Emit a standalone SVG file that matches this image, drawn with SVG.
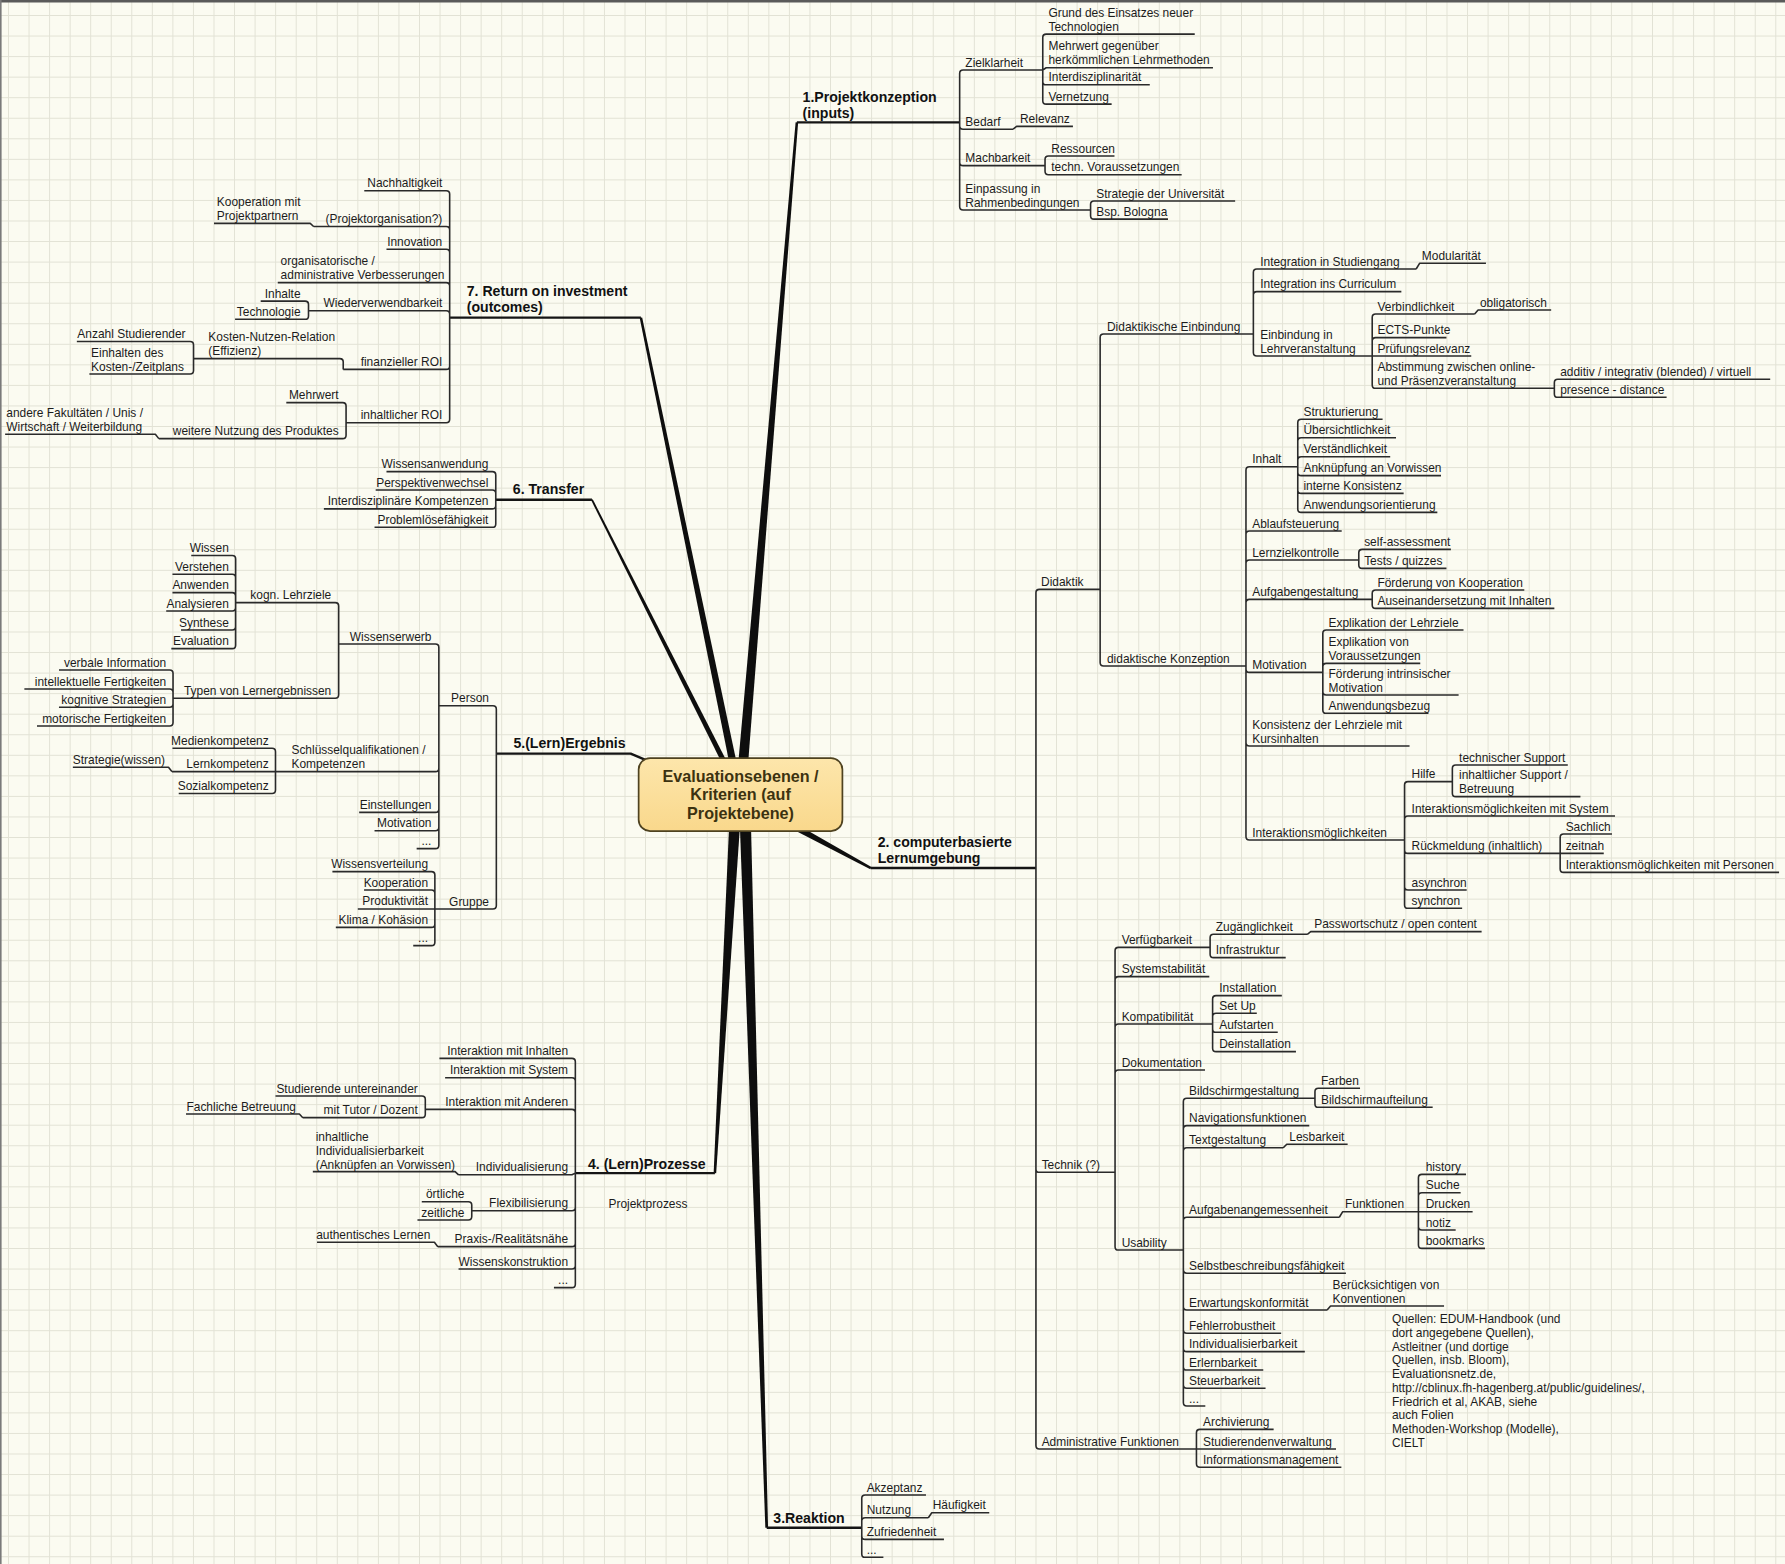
<svg xmlns="http://www.w3.org/2000/svg" width="1785" height="1564" viewBox="0 0 1785 1564">
<defs>
<pattern id="grid" x="8" y="15" width="20.55" height="20.55" patternUnits="userSpaceOnUse">
<path d="M0 0.5H20.55M0.5 0V20.55" fill="none" stroke="#e2e2d5" stroke-width="1"/>
</pattern>
<linearGradient id="cg" x1="0" y1="0" x2="0" y2="1">
<stop offset="0" stop-color="#fde6ab"/>
<stop offset="1" stop-color="#f9d88c"/>
</linearGradient>
<style>
.t{font-family:"Liberation Sans",Arial,sans-serif;font-size:10.5px;fill:#1c1c1c}
.e{text-anchor:end}
.b{font-weight:bold;font-size:12.4px;fill:#111}
.c{fill:none;stroke:#2a2a2a;stroke-width:1.4;stroke-linejoin:round}
.m{stroke-width:2.1;stroke:#151515}
.w{fill:#0e0e0e}
.ct{font-family:"Liberation Sans",Arial,sans-serif;font-weight:bold;font-size:14.2px;fill:#3c3210;text-anchor:middle}
</style>
</defs>
<rect width="1785" height="1564" fill="#fbfbf1"/>
<rect width="1785" height="1564" fill="url(#grid)"/>
<path d="M0 1.2H1785" stroke="#5a5a5a" stroke-width="2.4"/>
<path d="M0.8 0V1564" stroke="#7a7a7a" stroke-width="1.6"/>
<g transform="scale(1.13839)">
<g id="connectors">
<polygon class="w" points="698.9,107.4 701.1,107.6 655.6,690.4 646.8,689.6"/>
<polygon class="w" points="561.9,279.2 564.1,278.8 651.2,689.3 644.8,690.7"/>
<polygon class="w" points="519.3,439.4 520.7,438.6 648.7,688.9 644.5,691.1"/>
<polygon class="w" points="626.9,1030.4 629.1,1030.6 651.4,705.3 641.4,704.7"/>
<polygon class="w" points="672.3,1342 674.7,1342 659.2,704.8 649.2,705.2"/>
<polygon class="w" points="764.5,763.5 765.5,761.5 696.3,722.1 693.7,727.1"/>
<path class="c m" d="M700 107.5H843"/>
<path class="c m" d="M563 279H395"/>
<path class="c m" d="M520 439H435.5"/>
<path class="c m" d="M568 668L554 662H436"/>
<path class="c m" d="M628 1030.5H505.4"/>
<path class="c m" d="M673.5 1342H757"/>
<path class="c m" d="M765 762.5H910"/>
<path class="c" d="M843 107.5V64.5Q843 61.5 846 61.5H916M843 107.5V110.5Q843 113.5 846 113.5H890M843 107.5V142.5Q843 145.5 846 145.5H918M843 107.5V181.5Q843 184.5 846 184.5H958M916 61.5V33Q916 30 919 30H1049.5M916 61.5L919 59.5H1065.5M916 61.5V71.5Q916 74.5 919 74.5H1010M916 61.5V88.5Q916 91.5 919 91.5H976.5M890 113.5L893 111H942.5M918 145.5V140Q918 137 921 137H979M918 145.5V150.5Q918 153.5 921 153.5H1038M958 184.5V179.5Q958 176.5 961 176.5H1085M958 184.5V189.5Q958 192.5 961 192.5H1026"/>
<path class="c" d="M395 279V170.5Q395 167.5 392 167.5H320M395 279V202Q395 199 392 199H275.5M275.5 199L272.5 196.2H188M395 279V222Q395 219 392 219H339.5M395 279V251.3Q395 248.3 392 248.3H244M395 279V276Q395 273 392 273H271M271 273V267.5Q271 264.5 268 264.5H229M271 273V277.5Q271 280.5 268 280.5H206.5M395 279V321.5Q395 324.5 392 324.5H301.5M301.5 324.5V318Q301.5 315 298.5 315H170M170 315V303Q170 300 167 300H67.5M170 315V325.5Q170 328.5 167 328.5H78.5M395 279V368.3Q395 371.3 392 371.3H304M304 371.3V356.7Q304 353.7 301 353.7H251.5M304 371.3V382.3Q304 385.3 301 385.3H139.5M139.5 385.3L136.5 381.5H4.5"/>
<path class="c" d="M435.5 439V417.3Q435.5 414.3 432.5 414.3H339.5M435.5 439V433.4Q435.5 430.4 432.5 430.4H330M435.5 439V444Q435.5 447 432.5 447H284.5M435.5 439V460.2Q435.5 463.2 432.5 463.2H329"/>
<path class="c" d="M436 662V623Q436 620 433 620H385.5M436 662V795.5Q436 798.5 433 798.5H382M385.5 620V568.7Q385.5 565.7 382.5 565.7H297.5M385.5 620V674.8Q385.5 677.8 382.5 677.8H242M385.5 620V710.6Q385.5 713.6 382.5 713.6H315.5M385.5 620V726.7Q385.5 729.7 382.5 729.7H329M385.5 620V742.5Q385.5 745.5 382.5 745.5H366M297.5 565.7V532.4Q297.5 529.4 294.5 529.4H207M297.5 565.7V610.4Q297.5 613.4 294.5 613.4H152M207 529.4V491Q207 488 204 488H168M207 529.4V507.5Q207 504.5 204 504.5H151.5M207 529.4V523.6Q207 520.6 204 520.6H151.5M207 529.4V533.7Q207 536.7 204 536.7H146M207 529.4V550.4Q207 553.4 204 553.4H159M207 529.4V566.8Q207 569.8 204 569.8H150.5M152 613.4V591.5Q152 588.5 149 588.5H51.8M152 613.4V608.2Q152 605.2 149 605.2H21.4M152 613.4V618.3Q152 621.3 149 621.3H51.8M152 613.4V634.7Q152 637.7 149 637.7H32.5M242 677.8V660.3Q242 657.3 239 657.3H151.5M242 677.8H151M151 677.8L148 674H64M242 677.8V694Q242 697 239 697H157M382 798.5V768.7Q382 765.7 379 765.7H292M382 798.5V784.8Q382 781.8 379 781.8H319.8M382 798.5H314.3M382 798.5V811.6Q382 814.6 379 814.6H295M382 798.5V827.7Q382 830.7 379 830.7H363"/>
<path class="c" d="M505.4 1030.5V932.7Q505.4 929.7 502.4 929.7H386M505.4 1030.5V949.7Q505.4 946.7 502.4 946.7H391M505.4 1030.5V977.5Q505.4 974.5 502.4 974.5H373.6M373.6 974.5V965.8Q373.6 962.8 370.6 962.8H242M373.6 974.5V978.8Q373.6 981.8 370.6 981.8H266M266 981.8L263 978.6H163.4M505.4 1030.5L502.4 1032H402.8M402.8 1032L399.8 1029.2H274.8M505.4 1030.5V1060.5Q505.4 1063.5 502.4 1063.5H414.4M414.4 1063.5V1058.6Q414.4 1055.6 411.4 1055.6H370.5M414.4 1063.5V1068.7Q414.4 1071.7 411.4 1071.7H366.7M505.4 1030.5V1092.1Q505.4 1095.1 502.4 1095.1H384.6M384.6 1095.1L381.6 1091.3H278.5M505.4 1030.5V1111.7Q505.4 1114.7 502.4 1114.7H402.8M505.4 1030.5V1128.1Q505.4 1131.1 502.4 1131.1H486.6"/>
<path class="c" d="M757 1342V1316.2Q757 1313.2 760 1313.2H813.4M757 1342V1336.2Q757 1333.2 760 1333.2H815.5M815.5 1333.2L818.5 1328.8H869M757 1342V1349.2Q757 1352.2 760 1352.2H829.2M757 1342V1365Q757 1368 760 1368H776"/>
<path class="c" d="M910 762.5V520.7Q910 517.7 913 517.7H966.4M910 762.5V1026.8Q910 1029.8 913 1029.8H979.5M910 762.5V1269.8Q910 1272.8 913 1272.8H1051M966.4 517.7V296.4Q966.4 293.4 969.4 293.4H1101M966.4 517.7V582Q966.4 585 969.4 585H1094.5"/>
<path class="c" d="M1101 293.4V239.3Q1101 236.3 1104 236.3H1244M1244 236.3L1247 231.3H1305.3M1101 293.4V259.2Q1101 256.2 1104 256.2H1231M1101 293.4V309.7Q1101 312.7 1104 312.7H1205.4M1205.4 312.7V278.8Q1205.4 275.8 1208.4 275.8H1295.4M1295.4 275.8L1298.4 272.3H1362.6M1205.4 312.7V299.6Q1205.4 296.6 1208.4 296.6H1270.6M1205.4 312.7H1292.4M1205.4 312.7V338.1Q1205.4 341.1 1208.4 341.1H1365.4M1365.4 341.1V336.2Q1365.4 333.2 1368.4 333.2H1555M1365.4 341.1V346Q1365.4 349 1368.4 349H1464"/>
<path class="c" d="M1094.5 585V413Q1094.5 410 1097.5 410H1140M1140 410V371.3Q1140 368.3 1143 368.3H1214.5M1140 410V387.5Q1140 384.5 1143 384.5H1226.3M1140 410V404.2Q1140 401.2 1143 401.2H1221.2M1140 410V414.8Q1140 417.8 1143 417.8H1265.8M1140 410V430.4Q1140 433.4 1143 433.4H1233M1140 410V447.1Q1140 450.1 1143 450.1H1262.6M1094.5 585V469.4Q1094.5 466.4 1097.5 466.4H1178.6M1094.5 585V494.9Q1094.5 491.9 1097.5 491.9H1193.6M1193.6 491.9V485.6Q1193.6 482.6 1196.6 482.6H1274.5M1193.6 491.9V496.3Q1193.6 499.3 1196.6 499.3H1270.6M1094.5 585V529.5Q1094.5 526.5 1097.5 526.5H1205.4M1205.4 526.5V521.3Q1205.4 518.3 1208.4 518.3H1339M1205.4 526.5V531.4Q1205.4 534.4 1208.4 534.4H1365.4M1094.5 585V587.6Q1094.5 590.6 1097.5 590.6H1162M1162 590.6V556.4Q1162 553.4 1165 553.4H1285.6M1162 590.6V585.7Q1162 582.7 1165 582.7H1247.6M1162 590.6V607.5Q1162 610.5 1165 610.5H1281.3M1162 590.6V623.6Q1162 626.6 1165 626.6H1254.8M1094.5 585V652.3Q1094.5 655.3 1097.5 655.3H1238.2M1094.5 585V734.9Q1094.5 737.9 1097.5 737.9H1233.8M1233.8 737.9V689.6Q1233.8 686.6 1236.8 686.6H1275.8M1275.8 686.6V675Q1275.8 672 1278.8 672H1377.2M1275.8 686.6V696.8Q1275.8 699.8 1278.8 699.8H1388.3M1233.8 737.9V719.8Q1233.8 716.8 1236.8 716.8H1418.7M1233.8 737.9V746.6Q1233.8 749.6 1236.8 749.6H1370.5M1370.5 749.6V735.6Q1370.5 732.6 1373.5 732.6H1416M1370.5 749.6H1408.8M1370.5 749.6V763.3Q1370.5 766.3 1373.5 766.3H1562.8M1233.8 737.9V778.8Q1233.8 781.8 1236.8 781.8H1288.4M1233.8 737.9V794.9Q1233.8 797.9 1236.8 797.9H1284.4"/>
<path class="c" d="M979.5 1029.8V835.2Q979.5 832.2 982.5 832.2H1063M1063 832.2V823.7Q1063 820.7 1066 820.7H1148.4M1148.4 820.7L1151.4 818.4H1301.5M1063 832.2V838.2Q1063 841.2 1066 841.2H1129.4M979.5 1029.8V860.9Q979.5 857.9 982.5 857.9H1062.3M979.5 1029.8V902.5Q979.5 899.5 982.5 899.5H1065.2M1065.2 899.5V877.6Q1065.2 874.6 1068.2 874.6H1126M1065.2 899.5V893.1Q1065.2 890.1 1068.2 890.1H1104M1065.2 899.5V903.8Q1065.2 906.8 1068.2 906.8H1122.4M1065.2 899.5V920.8Q1065.2 923.8 1068.2 923.8H1138.4M979.5 1029.8V942.9Q979.5 939.9 982.5 939.9H1058.5M979.5 1029.8V1095.1Q979.5 1098.1 982.5 1098.1H1039.5"/>
<path class="c" d="M1039.5 1098.1V967.8Q1039.5 964.8 1042.5 964.8H1155.1M1155.1 964.8V959Q1155.1 956 1158.1 956H1194.7M1155.1 964.8V969.7Q1155.1 972.7 1158.1 972.7H1258.5M1039.5 1098.1V991.8Q1039.5 988.8 1042.5 988.8H1150.1M1039.5 1098.1V1011.2Q1039.5 1008.2 1042.5 1008.2H1127.3M1127.3 1008.2L1130.3 1005.2H1183.8M1039.5 1098.1V1072.3Q1039.5 1069.3 1042.5 1069.3H1176.5M1176.5 1069.3L1179.5 1064.4H1246M1246 1064.4V1034.6Q1246 1031.6 1249 1031.6H1287.8M1246 1064.4V1050.7Q1246 1047.7 1249 1047.7H1283.1M1246 1064.4H1293.6M1246 1064.4V1077.5Q1246 1080.5 1249 1080.5H1278.7M1246 1064.4V1093.6Q1246 1096.6 1249 1096.6H1304.5M1039.5 1098.1V1115.5Q1039.5 1118.5 1042.5 1118.5H1182.3M1039.5 1098.1V1147.7Q1039.5 1150.7 1042.5 1150.7H1165.8M1165.8 1150.7L1168.8 1147.2H1268.5M1039.5 1098.1V1168.2Q1039.5 1171.2 1042.5 1171.2H1125.4M1039.5 1098.1V1184.3Q1039.5 1187.3 1042.5 1187.3H1146.2M1039.5 1098.1V1200.5Q1039.5 1203.5 1042.5 1203.5H1109.7M1039.5 1098.1V1216.5Q1039.5 1219.5 1042.5 1219.5H1111.7M1039.5 1098.1V1232.1Q1039.5 1235.1 1042.5 1235.1H1058.8"/>
<path class="c" d="M1051 1272.8V1258.6Q1051 1255.6 1054 1255.6H1118.8M1051 1272.8H1173.6M1051 1272.8V1285.9Q1051 1288.9 1054 1288.9H1178.3"/>
</g>
<g id="center">
<rect x="561" y="666" width="179" height="64" rx="10" fill="url(#cg)" stroke="#4e4220" stroke-width="1.5"/>
<text class="ct" x="650.5" y="687">Evaluationsebenen /</text>
<text class="ct" x="650.5" y="703">Kriterien (auf</text>
<text class="ct" x="650.5" y="719">Projektebene)</text>
</g>
<g id="b1-projektkonzeption"><text class="t b" x="705" y="89.3">1.Projektkonzeption</text><text class="t b" x="705" y="103.8">(inputs)</text></g>
<g id="n-zielklarheit"><text class="t" x="848" y="58.5">Zielklarheit</text></g>
<g id="n-bedarf"><text class="t" x="848" y="110.5">Bedarf</text></g>
<g id="n-machbarkeit"><text class="t" x="848" y="142.5">Machbarkeit</text></g>
<g id="n-einpassung"><text class="t" x="848" y="169.3">Einpassung in</text><text class="t" x="848" y="181.5">Rahmenbedingungen</text></g>
<g id="n-grund"><text class="t" x="921" y="14.8">Grund des Einsatzes neuer</text><text class="t" x="921" y="27">Technologien</text></g>
<g id="n-mehrwert1"><text class="t" x="921" y="44.3">Mehrwert gegenüber</text><text class="t" x="921" y="56.5">herkömmlichen Lehrmethoden</text></g>
<g id="n-interdisz"><text class="t" x="921" y="71.5">Interdisziplinarität</text></g>
<g id="n-vernetzung"><text class="t" x="921" y="88.5">Vernetzung</text></g>
<g id="n-relevanz"><text class="t" x="896" y="108">Relevanz</text></g>
<g id="n-ressourcen"><text class="t" x="923.5" y="134">Ressourcen</text></g>
<g id="n-techn"><text class="t" x="923.5" y="150.5">techn. Voraussetzungen</text></g>
<g id="n-strategie-uni"><text class="t" x="963" y="173.5">Strategie der Universität</text></g>
<g id="n-bologna"><text class="t" x="963" y="189.5">Bsp. Bologna</text></g>
<g id="b7-roi"><text class="t b" x="410" y="259.6">7. Return on investment</text><text class="t b" x="410" y="273.7">(outcomes)</text></g>
<g id="n-nachhaltigkeit"><text class="t e" x="388.5" y="164.5">Nachhaltigkeit</text></g>
<g id="n-projektorg"><text class="t e" x="388.5" y="196">(Projektorganisation?)</text></g>
<g id="n-kooperation-pp"><text class="t" x="190.5" y="181">Kooperation mit</text><text class="t" x="190.5" y="193.2">Projektpartnern</text></g>
<g id="n-innovation"><text class="t e" x="388.5" y="216">Innovation</text></g>
<g id="n-organisatorisch"><text class="t" x="246.5" y="233">organisatorische /</text><text class="t" x="246.5" y="245.3">administrative Verbesserungen</text></g>
<g id="n-wiederverwendbarkeit"><text class="t e" x="388.5" y="270">Wiederverwendbarkeit</text></g>
<g id="n-inhalte"><text class="t e" x="264" y="261.5">Inhalte</text></g>
<g id="n-technologie"><text class="t e" x="264" y="277.5">Technologie</text></g>
<g id="n-finanz-roi"><text class="t e" x="388.5" y="321.5">finanzieller ROI</text></g>
<g id="n-kosten-nutzen"><text class="t" x="183" y="299.5">Kosten-Nutzen-Relation</text><text class="t" x="183" y="311.7">(Effizienz)</text></g>
<g id="n-anzahl"><text class="t e" x="163" y="297">Anzahl Studierender</text></g>
<g id="n-einhalten"><text class="t" x="80" y="313.3">Einhalten des</text><text class="t" x="80" y="325.5">Kosten-/Zeitplans</text></g>
<g id="n-inhalt-roi"><text class="t e" x="388.5" y="368.3">inhaltlicher ROI</text></g>
<g id="n-mehrwert2"><text class="t e" x="297.5" y="350.7">Mehrwert</text></g>
<g id="n-weitere-nutzung"><text class="t e" x="297.5" y="382.3">weitere Nutzung des Produktes</text></g>
<g id="n-andere-fak"><text class="t" x="5.5" y="366.3">andere Fakultäten / Unis /</text><text class="t" x="5.5" y="378.5">Wirtschaft / Weiterbildung</text></g>
<g id="b6-transfer"><text class="t b" x="450.5" y="434">6. Transfer</text></g>
<g id="n-wissensanwendung"><text class="t e" x="429" y="411.3">Wissensanwendung</text></g>
<g id="n-perspektiv"><text class="t e" x="429" y="427.4">Perspektivenwechsel</text></g>
<g id="n-interdisz-komp"><text class="t e" x="429" y="444">Interdisziplinäre Kompetenzen</text></g>
<g id="n-problemloese"><text class="t e" x="429" y="460.2">Problemlösefähigkeit</text></g>
<g id="b5-ergebnis"><text class="t b" x="451" y="657.3">5.(Lern)Ergebnis</text></g>
<g id="n-person"><text class="t e" x="429.5" y="617">Person</text></g>
<g id="n-gruppe"><text class="t e" x="429.5" y="795.5">Gruppe</text></g>
<g id="n-wissenserwerb"><text class="t e" x="379" y="562.7">Wissenserwerb</text></g>
<g id="n-schluessel"><text class="t" x="256" y="662.6">Schlüsselqualifikationen /</text><text class="t" x="256" y="674.8">Kompetenzen</text></g>
<g id="n-einstellungen"><text class="t e" x="379" y="710.6">Einstellungen</text></g>
<g id="n-motivation-p"><text class="t e" x="379" y="726.7">Motivation</text></g>
<g id="n-etc-person"><text class="t e" x="379" y="742.5">...</text></g>
<g id="n-kogn"><text class="t e" x="291" y="526.4">kogn. Lehrziele</text></g>
<g id="n-typen"><text class="t e" x="291" y="610.4">Typen von Lernergebnissen</text></g>
<g id="n-wissen"><text class="t e" x="201" y="485">Wissen</text></g>
<g id="n-verstehen"><text class="t e" x="201" y="501.5">Verstehen</text></g>
<g id="n-anwenden"><text class="t e" x="201" y="517.6">Anwenden</text></g>
<g id="n-analysieren"><text class="t e" x="201" y="533.7">Analysieren</text></g>
<g id="n-synthese"><text class="t e" x="201" y="550.4">Synthese</text></g>
<g id="n-evaluation"><text class="t e" x="201" y="566.8">Evaluation</text></g>
<g id="n-verbale"><text class="t e" x="146" y="585.5">verbale Information</text></g>
<g id="n-intellekt"><text class="t e" x="146" y="602.2">intellektuelle Fertigkeiten</text></g>
<g id="n-kognitive"><text class="t e" x="146" y="618.3">kognitive Strategien</text></g>
<g id="n-motorische"><text class="t e" x="146" y="634.7">motorische Fertigkeiten</text></g>
<g id="n-medien"><text class="t e" x="236" y="654.3">Medienkompetenz</text></g>
<g id="n-lernkomp"><text class="t e" x="236" y="674.3">Lernkompetenz</text></g>
<g id="n-strategiewissen"><text class="t e" x="145" y="671">Strategie(wissen)</text></g>
<g id="n-sozial"><text class="t e" x="236" y="694">Sozialkompetenz</text></g>
<g id="n-wissensverteilung"><text class="t e" x="376" y="762.7">Wissensverteilung</text></g>
<g id="n-kooperation-g"><text class="t e" x="376" y="778.8">Kooperation</text></g>
<g id="n-produktivitaet"><text class="t e" x="376" y="795.3">Produktivität</text></g>
<g id="n-klima"><text class="t e" x="376" y="811.6">Klima / Kohäsion</text></g>
<g id="n-etc-gruppe"><text class="t e" x="376" y="827.7">...</text></g>
<g id="b4-prozesse"><text class="t b" x="516.5" y="1026.8">4. (Lern)Prozesse</text></g>
<g id="n-projektprozess"><text class="t" x="534.5" y="1061.4">Projektprozess</text></g>
<g id="n-ia-inhalten"><text class="t e" x="499" y="926.7">Interaktion mit Inhalten</text></g>
<g id="n-ia-system"><text class="t e" x="499" y="943.7">Interaktion mit System</text></g>
<g id="n-ia-anderen"><text class="t e" x="499" y="971.5">Interaktion mit Anderen</text></g>
<g id="n-studierende"><text class="t e" x="367" y="959.8">Studierende untereinander</text></g>
<g id="n-tutor"><text class="t e" x="367" y="978.8">mit Tutor / Dozent</text></g>
<g id="n-fachliche"><text class="t e" x="260" y="975.6">Fachliche Betreuung</text></g>
<g id="n-individualisierung"><text class="t e" x="499" y="1029">Individualisierung</text></g>
<g id="n-inhaltliche-ind"><text class="t" x="277.3" y="1002.2">inhaltliche</text><text class="t" x="277.3" y="1014.4">Individualisierbarkeit</text><text class="t" x="277.3" y="1026.6">(Anknüpfen an Vorwissen)</text></g>
<g id="n-flexibilisierung"><text class="t e" x="499" y="1060.5">Flexibilisierung</text></g>
<g id="n-oertliche"><text class="t e" x="408" y="1052.6">örtliche</text></g>
<g id="n-zeitliche"><text class="t e" x="408" y="1068.7">zeitliche</text></g>
<g id="n-praxis"><text class="t e" x="499" y="1092.1">Praxis-/Realitätsnähe</text></g>
<g id="n-authentisch"><text class="t e" x="378" y="1088.3">authentisches Lernen</text></g>
<g id="n-wissenskonstruktion"><text class="t e" x="499" y="1111.7">Wissenskonstruktion</text></g>
<g id="n-etc-prozesse"><text class="t e" x="499" y="1128.1">...</text></g>
<g id="b3-reaktion"><text class="t b" x="679.3" y="1337.5">3.Reaktion</text></g>
<g id="n-akzeptanz"><text class="t" x="761.3" y="1310.2">Akzeptanz</text></g>
<g id="n-nutzung"><text class="t" x="761.3" y="1330.2">Nutzung</text></g>
<g id="n-haeufigkeit"><text class="t" x="819.3" y="1325.8">Häufigkeit</text></g>
<g id="n-zufriedenheit"><text class="t" x="761.3" y="1349.2">Zufriedenheit</text></g>
<g id="n-etc-reaktion"><text class="t" x="761.3" y="1365">...</text></g>
<g id="b2-lernumgebung"><text class="t b" x="771" y="744.3">2. computerbasierte</text><text class="t b" x="771" y="758.3">Lernumgebung</text></g>
<g id="n-didaktik"><text class="t" x="914.5" y="514.7">Didaktik</text></g>
<g id="n-technik"><text class="t" x="915" y="1026.8">Technik (?)</text></g>
<g id="n-admin"><text class="t" x="915" y="1269.8">Administrative Funktionen</text></g>
<g id="n-did-einbindung"><text class="t" x="972.4" y="290.4">Didaktikische Einbindung</text></g>
<g id="n-did-konzeption"><text class="t" x="972.4" y="582">didaktische Konzeption</text></g>
<g id="n-int-studiengang"><text class="t" x="1107" y="233.3">Integration in Studiengang</text></g>
<g id="n-modularitaet"><text class="t" x="1249" y="228.3">Modularität</text></g>
<g id="n-int-curriculum"><text class="t" x="1107" y="253.2">Integration ins Curriculum</text></g>
<g id="n-einbindung-lv"><text class="t" x="1107" y="297.5">Einbindung in</text><text class="t" x="1107" y="309.7">Lehrveranstaltung</text></g>
<g id="n-verbindlichkeit"><text class="t" x="1210" y="272.8">Verbindlichkeit</text></g>
<g id="n-obligatorisch"><text class="t" x="1300" y="269.3">obligatorisch</text></g>
<g id="n-ects"><text class="t" x="1210" y="293.6">ECTS-Punkte</text></g>
<g id="n-pruefung"><text class="t" x="1210" y="309.7">Prüfungsrelevanz</text></g>
<g id="n-abstimmung"><text class="t" x="1210" y="325.9">Abstimmung zwischen online-</text><text class="t" x="1210" y="338.1">und Präsenzveranstaltung</text></g>
<g id="n-additiv"><text class="t" x="1370.5" y="330.2">additiv / integrativ (blended) / virtuell</text></g>
<g id="n-presence"><text class="t" x="1370.5" y="346">presence - distance</text></g>
<g id="n-inhalt"><text class="t" x="1100" y="407">Inhalt</text></g>
<g id="n-strukturierung"><text class="t" x="1145" y="365.3">Strukturierung</text></g>
<g id="n-uebersicht"><text class="t" x="1145" y="381.5">Übersichtlichkeit</text></g>
<g id="n-verstaendlich"><text class="t" x="1145" y="398.2">Verständlichkeit</text></g>
<g id="n-anknuepfung"><text class="t" x="1145" y="414.8">Anknüpfung an Vorwissen</text></g>
<g id="n-konsistenz-int"><text class="t" x="1145" y="430.4">interne Konsistenz</text></g>
<g id="n-anwendungsor"><text class="t" x="1145" y="447.1">Anwendungsorientierung</text></g>
<g id="n-ablauf"><text class="t" x="1100" y="463.4">Ablaufsteuerung</text></g>
<g id="n-lernziel"><text class="t" x="1100" y="488.9">Lernzielkontrolle</text></g>
<g id="n-selfassess"><text class="t" x="1198.3" y="479.6">self-assessment</text></g>
<g id="n-tests"><text class="t" x="1198.3" y="496.3">Tests / quizzes</text></g>
<g id="n-aufgaben"><text class="t" x="1100" y="523.5">Aufgabengestaltung</text></g>
<g id="n-foerd-koop"><text class="t" x="1210" y="515.3">Förderung von Kooperation</text></g>
<g id="n-auseinander"><text class="t" x="1210" y="531.4">Auseinandersetzung mit Inhalten</text></g>
<g id="n-motivation-d"><text class="t" x="1100" y="587.6">Motivation</text></g>
<g id="n-expl-lehrziele"><text class="t" x="1167" y="550.4">Explikation der Lehrziele</text></g>
<g id="n-expl-vorauss"><text class="t" x="1167" y="567.5">Explikation von</text><text class="t" x="1167" y="579.7">Voraussetzungen</text></g>
<g id="n-foerd-intr"><text class="t" x="1167" y="595.3">Förderung intrinsischer</text><text class="t" x="1167" y="607.5">Motivation</text></g>
<g id="n-anwendungsbezug"><text class="t" x="1167" y="623.6">Anwendungsbezug</text></g>
<g id="n-konsistenz-lz"><text class="t" x="1100" y="640.1">Konsistenz der Lehrziele mit</text><text class="t" x="1100" y="652.3">Kursinhalten</text></g>
<g id="n-interaktion"><text class="t" x="1100" y="734.9">Interaktionsmöglichkeiten</text></g>
<g id="n-hilfe"><text class="t" x="1240" y="683.6">Hilfe</text></g>
<g id="n-tech-support"><text class="t" x="1281.7" y="669">technischer Support</text></g>
<g id="n-inh-support"><text class="t" x="1281.7" y="684.6">inhaltlicher Support /</text><text class="t" x="1281.7" y="696.8">Betreuung</text></g>
<g id="n-ia-mit-system"><text class="t" x="1240" y="713.8">Interaktionsmöglichkeiten mit System</text></g>
<g id="n-rueckmeldung"><text class="t" x="1240" y="746.6">Rückmeldung (inhaltlich)</text></g>
<g id="n-sachlich"><text class="t" x="1375.3" y="729.6">Sachlich</text></g>
<g id="n-zeitnah"><text class="t" x="1375.3" y="746.6">zeitnah</text></g>
<g id="n-ia-personen"><text class="t" x="1375.3" y="763.3">Interaktionsmöglichkeiten mit Personen</text></g>
<g id="n-asynchron"><text class="t" x="1240" y="778.8">asynchron</text></g>
<g id="n-synchron"><text class="t" x="1240" y="794.9">synchron</text></g>
<g id="n-verfuegbarkeit"><text class="t" x="985.3" y="829.2">Verfügbarkeit</text></g>
<g id="n-zugaenglichkeit"><text class="t" x="1068" y="817.7">Zugänglichkeit</text></g>
<g id="n-passwort"><text class="t" x="1154.5" y="815.4">Passwortschutz / open content</text></g>
<g id="n-infrastruktur"><text class="t" x="1068" y="838.2">Infrastruktur</text></g>
<g id="n-systemstab"><text class="t" x="985.3" y="854.9">Systemstabilität</text></g>
<g id="n-kompat"><text class="t" x="985.3" y="896.5">Kompatibilität</text></g>
<g id="n-installation"><text class="t" x="1071" y="871.6">Installation</text></g>
<g id="n-setup"><text class="t" x="1071" y="887.1">Set Up</text></g>
<g id="n-aufstarten"><text class="t" x="1071" y="903.8">Aufstarten</text></g>
<g id="n-deinstallation"><text class="t" x="1071" y="920.8">Deinstallation</text></g>
<g id="n-dokumentation"><text class="t" x="985.3" y="936.9">Dokumentation</text></g>
<g id="n-usability"><text class="t" x="985.3" y="1095.1">Usability</text></g>
<g id="n-bildschirmgest"><text class="t" x="1044.5" y="961.8">Bildschirmgestaltung</text></g>
<g id="n-farben"><text class="t" x="1160.4" y="953">Farben</text></g>
<g id="n-bildschirmauf"><text class="t" x="1160.4" y="969.7">Bildschirmaufteilung</text></g>
<g id="n-navigation"><text class="t" x="1044.5" y="985.8">Navigationsfunktionen</text></g>
<g id="n-textgest"><text class="t" x="1044.5" y="1005.2">Textgestaltung</text></g>
<g id="n-lesbarkeit"><text class="t" x="1132.6" y="1002.2">Lesbarkeit</text></g>
<g id="n-aufgabenang"><text class="t" x="1044.5" y="1066.3">Aufgabenangemessenheit</text></g>
<g id="n-funktionen"><text class="t" x="1181.5" y="1061.4">Funktionen</text></g>
<g id="n-history"><text class="t" x="1252.4" y="1028.6">history</text></g>
<g id="n-suche"><text class="t" x="1252.4" y="1044.7">Suche</text></g>
<g id="n-drucken"><text class="t" x="1252.4" y="1061.4">Drucken</text></g>
<g id="n-notiz"><text class="t" x="1252.4" y="1077.5">notiz</text></g>
<g id="n-bookmarks"><text class="t" x="1252.4" y="1093.6">bookmarks</text></g>
<g id="n-selbstbeschr"><text class="t" x="1044.5" y="1115.5">Selbstbeschreibungsfähigkeit</text></g>
<g id="n-erwartung"><text class="t" x="1044.5" y="1147.7">Erwartungskonformität</text></g>
<g id="n-konventionen"><text class="t" x="1170.5" y="1132">Berücksichtigen von</text><text class="t" x="1170.5" y="1144.2">Konventionen</text></g>
<g id="n-fehler"><text class="t" x="1044.5" y="1168.2">Fehlerrobustheit</text></g>
<g id="n-individualisierbarkeit"><text class="t" x="1044.5" y="1184.3">Individualisierbarkeit</text></g>
<g id="n-erlernbarkeit"><text class="t" x="1044.5" y="1200.5">Erlernbarkeit</text></g>
<g id="n-steuerbarkeit"><text class="t" x="1044.5" y="1216.5">Steuerbarkeit</text></g>
<g id="n-etc-usability"><text class="t" x="1044.5" y="1232.1">...</text></g>
<g id="n-archivierung"><text class="t" x="1056.8" y="1252.6">Archivierung</text></g>
<g id="n-studverw"><text class="t" x="1056.8" y="1269.8">Studierendenverwaltung</text></g>
<g id="n-infomanagement"><text class="t" x="1056.8" y="1285.9">Informationsmanagement</text></g>
<g id="n-quellen"><text class="t" x="1222.7" y="1162.4">Quellen: EDUM-Handbook (und<tspan x="1222.7" dy="12.05">dort angegebene Quellen),</tspan><tspan x="1222.7" dy="12.05">Astleitner (und dortige</tspan><tspan x="1222.7" dy="12.05">Quellen, insb. Bloom),</tspan><tspan x="1222.7" dy="12.05">Evaluationsnetz.de,</tspan><tspan x="1222.7" dy="12.05">http://cblinux.fh-hagenberg.at/public/guidelines/,</tspan><tspan x="1222.7" dy="12.05">Friedrich et al, AKAB, siehe</tspan><tspan x="1222.7" dy="12.05">auch Folien</tspan><tspan x="1222.7" dy="12.05">Methoden-Workshop (Modelle),</tspan><tspan x="1222.7" dy="12.05">CIELT</tspan></text></g>
</g>
</svg>
